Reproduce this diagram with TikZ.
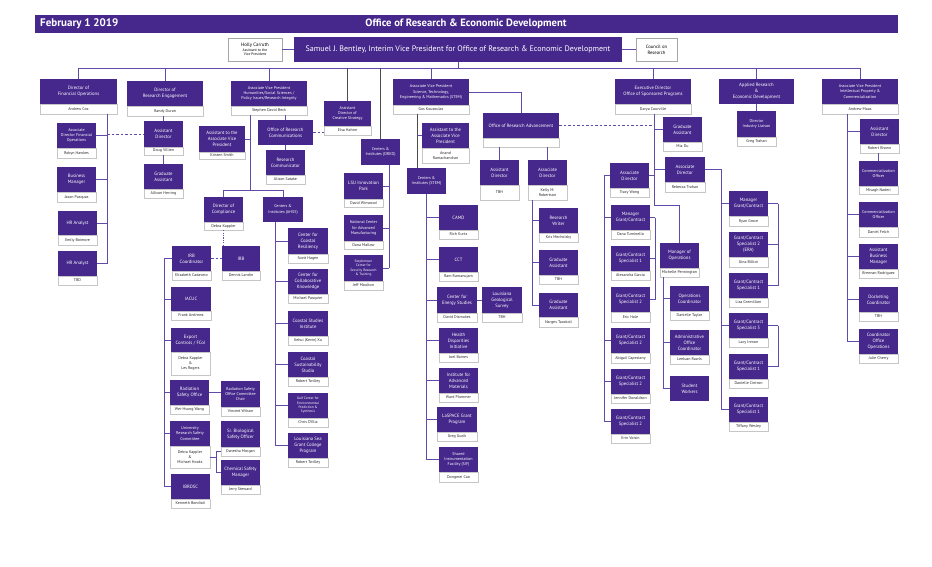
\documentclass[tikz,border=0pt]{standalone}
\usepackage{fontspec}
\setmainfont{PT Sans}
\definecolor{vio}{RGB}{70,40,140}
\definecolor{lvio}{RGB}{98,74,170}
\tikzset{
  pb/.style={fill=vio, text=white, draw=none, inner sep=0.3pt, align=center, font=\fontsize{4.7}{5.9}\selectfont},
  sm/.style={font=\fontsize{4.1}{5.1}\selectfont},
  xs/.style={font=\fontsize{3.5}{4.3}\selectfont},
  nb/.style={fill=white, draw=gray!45, line width=0.4pt, text=black!85, inner sep=0.3pt, align=center, font=\fontsize{4}{5}\selectfont},
  ln/.style={draw=lvio, line width=1pt},
  dk/.style={draw=black!70, line width=1pt},
  dsh/.style={draw=lvio, line width=1pt, dash pattern=on 2.5pt off 2pt},
  dtt/.style={draw=lvio, line width=1pt, dash pattern=on 1.2pt off 1.2pt},
  wb/.style={fill=white, draw=gray!70, line width=0.6pt, align=center, inner sep=0.5pt},
}
% purple box with name row: name, x1, y1, x2, y2 (purple bottom), y3 (name bottom), text, person, extra style
\newcommand{\ob}[9]{%
  \node[pb,#9, minimum width={#4pt-#2pt}, minimum height={#5pt-#3pt}] (#1) at ({(#2+#4)/2},{(#3+#5)/2}) {#7};
  \node[nb, minimum width={#4pt-#2pt}, minimum height={#6pt-#5pt}] (#1n) at ({(#2+#4)/2},{(#5+#6)/2}) {#8};}
% purple box only
\newcommand{\pbx}[7]{%
  \node[pb,#7, minimum width={#4pt-#2pt}, minimum height={#5pt-#3pt}] (#1) at ({(#2+#4)/2},{(#3+#5)/2}) {#6};}
\begin{document}
\begin{tikzpicture}[x=1pt,y=-1pt]
\useasboundingbox (0,0) rectangle (932,566);
% title bar
\node[fill=vio, minimum width=863pt, minimum height=18pt, inner sep=0pt] (bar) at (466.5,24) {};
\node[anchor=west, text=white, font=\fontsize{11}{13}\selectfont\bfseries, inner sep=0pt] (date) at (40,24) {February 1 2019};
\node[text=white, font=\fontsize{10.6}{13}\selectfont\bfseries, inner sep=0pt] (ttl) at (466,24) {Office of Research \& Economic Development};
% top row
\node[wb, minimum width=54pt, minimum height=23pt, font=\fontsize{3.7}{4.5}\selectfont] (holly) at (255,49.5) {{\fontsize{4.9}{5.5}\selectfont Holly Carruth}\\Assistant to the\\Vice President};
\node[pb, minimum width=328pt, minimum height=25pt, font=\fontsize{8}{10}\selectfont] (samuel) at (458,49.5) {Samuel J. Bentley, Interim Vice President for Office of Research \& Economic Development};
\node[wb, minimum width=41pt, minimum height=23pt, font=\fontsize{4.7}{5.7}\selectfont] (council) at (656.5,49.5) {Council on\\Research};
\draw[ln] (holly.east) -- (samuel.west);
\draw[ln] (samuel.east) -- (council.west);
% level 1
\ob{fin}{40}{79}{117}{104}{114}{Director of\\Financial Operations}{Andrew Cox}{}
\ob{reng}{127}{81}{203}{106}{116}{Director of\\Research Engagement}{Randy Duran}{}
\ob{hum}{231}{81}{307}{106}{115}{Associate Vice President\\Humanities/Social Sciences /\\Policy Issues/Research Integrity}{Stephen David Beck}{sm}
\ob{cs}{324}{101}{371}{126}{135}{Assistant\\Director of\\Creative Strategy}{Elsa Hahne}{sm}
\pbx{ored}{361}{139}{400}{165}{Centers \&\\Institutes (ORED)}{sm}
\ob{stem}{393}{79}{469}{105}{114}{Associate Vice President\\Science, Technology,\\Engineering \& Mathematics (STEM)}{Gus Kousoulas}{sm}
\ob{osp}{615}{79}{691}{104}{114}{Executive Director\\Office of Sponsored Programs}{Darya Courville}{}
\pbx{appl}{719}{79}{794}{104}{Applied Research\\\&\\Economic Development}{}
\ob{ip}{822}{79}{898}{104}{114}{Associate Vice President\\Intellectual Property \&\\Commercialization}{Andrew Maas}{sm}
% main bus
\coordinate (busy) at (0,68);
\draw[ln] (fin.north |- busy) -- (ip.north |- busy);
\draw[ln] (samuel.south) -- (samuel.south |- busy);
\foreach \n in {fin,reng,hum,stem,osp,appl,ip} \draw[ln] (\n.north) -- (\n.north |- busy);
\foreach \n in {cs,ored} \draw[dk] (\n.north) -- (\n.north |- busy);
% financial operations
\ob{adfo}{57}{123}{96}{148}{158}{Associate\\Director Financial\\Operations}{Robyn Hawkes}{sm}
\ob{bm}{57}{167}{96}{192}{202}{Business\\Manager}{Jason Pasquas}{}
\ob{hra}{58}{211}{97}{235}{245}{HR Analyst}{Emily Boimore}{}
\ob{hrb}{58}{251}{97}{276}{285}{HR Analyst}{TBD}{}
\coordinate (fb) at (107,0);
\draw[ln] (finn.south -| fb) -- (hrb.east -| fb);
\foreach \n in {adfo,bm,hra,hrb} \draw[ln] (\n.east) -- (\n.east -| fb);
% research engagement
\ob{ada}{144}{121}{183}{147}{155}{Assistant\\Director}{Doug Villien}{}
\ob{gaa}{144}{164}{183}{189}{198}{Graduate\\Assistant}{Allison Herring}{}
\draw[ln] (ada.north |- rengn.south) -- (ada.north);
\draw[ln] (adan.south) -- (gaa.north);
\draw[dsh] (ada.west -| fb) -- (ada.west);
% humanities
\ob{avpa}{199}{126}{245}{152}{159}{Assistant to the\\Associate Vice\\President}{Kristen Smith}{}
\pbx{orc}{258}{120}{313}{145}{Office of Research\\Communications}{}
\ob{rc}{266}{150}{305}{175}{184}{Research\\Communicator}{Alison Satake}{}
\ob{comp}{204}{197}{243}{222}{230}{Director of\\Compliance}{Debra Kappler}{}
\pbx{ahss}{263}{197}{303}{222}{Centers \&\\Institutes (AHSS)}{sm}
\coordinate (hb) at (250,0); \coordinate (hy) at (0,190);
\draw[ln] (humn.south -| hb) -- (hb |- hy);
\draw[ln] (avpa.east) -- (avpa.east -| hb);
\draw[ln] (comp.north |- hy) -- (ahss.north |- hy);
\draw[ln] (comp.north) -- (comp.north |- hy);
\draw[ln] (ahss.north) -- (ahss.north |- hy);
\draw[ln] (orc.north) -- (orc.north |- humn.south);
\draw[ln] (orc.south) -- (rc.north);
\draw[dsh] (orc.east) -- (orc.east -| cs.west);
% compliance
\ob{irb}{222}{246}{260}{271}{280}{IRB}{Dennis Landin}{}
\ob{irbc}{172}{246}{211}{271}{280}{IRB\\Coordinator}{Elizabeth Cadavero}{}
\ob{iacuc}{171}{287}{211}{311}{320}{IACUC}{Frank Andrews}{}
\ob{exp}{171}{328}{210}{352}{375}{Export\\Controls / FCoI}{Debra Kappler\\\&\\Les Rogers}{}
\ob{rso}{170}{380}{209}{405}{414}{Radiation\\Safety Office}{Wei-Hsung Wang}{}
\ob{rsoc}{221}{381}{260}{407}{416}{Radiation Safety\\Office Committee\\Chair}{Vincent Wilson}{sm}
\ob{ursc}{170}{421}{210}{446}{468}{University\\Research Safety\\Committee}{Debra Kappler\\\&\\Michael Hooks}{sm}
\ob{sbso}{221}{421}{260}{447}{456}{Sr. Biological\\Safety Officer}{Danesha Morgan}{}
\ob{csm}{221}{460}{260}{485}{494}{Chemical Safety\\Manager}{Jerry Steward}{}
\ob{ibrd}{171}{474}{210}{499}{508}{IBRDSC}{Kenneth Bondioli}{}
\draw[dtt] (compn.south) -- (compn.south |- irb.north);
\draw[dsh] (irbc.east) -- (irb.west);
\coordinate (cb) at (164,0);
\draw[ln] (irbc.west -| cb) -- (ibrd.west -| cb);
\foreach \n in {irbc,iacuc,exp,rso,ursc,ibrd} \draw[ln] (\n.west) -- (\n.west -| cb);
\draw[ln] (rso.east) -- (rso.east -| rsoc.west);
\coordinate (bk) at (216,0);
\draw[ln] (urscn.east) -- (urscn.east -| bk);
\draw[ln] (sbson.west -| bk) -- (csm.west -| bk);
\draw[ln] (sbson.west) -- (sbson.west -| bk);
\draw[ln] (csm.west) -- (csm.west -| bk);
% AHSS centers
\ob{ccr}{288}{228}{328}{254}{263}{Center for\\Coastal\\Resiliency}{Scott Hagen}{}
\ob{cck}{288}{269}{328}{294}{303}{Center for\\Collaborative\\Knowledge}{Michael Pasquier}{}
\ob{csi}{288}{311}{328}{336}{345}{Coastal Studies\\Institute}{Kehui (Kevin) Xu}{}
\ob{css}{288}{352}{328}{377}{386}{Coastal\\Sustainability\\Studio}{Robert Twilley}{}
\ob{gcep}{288}{393}{328}{418}{427}{Gulf Center for\\Environmental\\Prediction \&\\Synthesis}{Chris D'Elia}{xs}
\ob{lsg}{288}{433}{328}{458}{467}{Louisiana Sea\\Grant College\\Program}{Robert Twilley}{}
\coordinate (ab) at (275,0);
\draw[ln] (ahss.south -| ab) -- (lsg.west -| ab);
\foreach \n in {ccr,cck,csi,css,gcep,lsg} \draw[ln] (\n.west) -- (\n.west -| ab);
% ORED centers
\ob{lip}{344}{173}{383}{199}{207}{LSU Innovation\\Park}{David Winwood}{}
\ob{ncam}{344}{215}{383}{241}{249}{National Center\\for Advanced\\Manufacturing}{Dana Mallow}{sm}
\ob{stc}{344}{255}{383}{281}{290}{Stephenson\\Center for\\Security Research\\\& Training}{Jeff Moulton}{xs}
\coordinate (obx) at (389,0);
\draw[ln] (ored.south -| obx) -- (stc.east -| obx);
\foreach \n in {lip,ncam,stc} \draw[ln] (\n.east) -- (\n.east -| obx);
% STEM
\ob{avpb}{422}{123}{469}{148}{163}{Assistant to the\\Associate Vice\\President}{Anand\\Ramachandran}{}
\pbx{cis}{407}{168}{446}{194}{Centers \&\\Institutes (STEM)}{sm}
\coordinate (sb) at (417,0);
\draw[dk] (stemn.south -| sb) -- (cis.north -| sb);
\draw[ln] (avpb.west) -- (avpb.west -| sb);
\ob{camd}{439}{205}{478}{230}{239}{CAMD}{Rich Kurtz}{}
\ob{cct}{439}{247}{478}{272}{281}{CCT}{Ram Ramanujam}{}
\ob{ces}{437}{287}{477}{313}{322}{Center for\\Energy Studies}{David Dismukes}{}
\ob{lgs}{482}{287}{522}{313}{322}{Louisiana\\Geological\\Survey}{TBH}{}
\ob{hdi}{439}{328}{478}{353}{362}{Health\\Disparities\\Initiative}{Joel Baines}{}
\ob{iam}{439}{368}{478}{393}{402}{Institute for\\Advanced\\Materials}{Ward Plummer}{}
\ob{lasp}{437}{407}{477}{432}{441}{LaSPACE Grant\\Program}{Greg Guzik}{}
\ob{sif}{439}{447}{478}{472}{482}{Shared\\Instrumentation\\Facility (SIF)}{Dongmei Cao}{sm}
\coordinate (cib) at (426,0);
\draw[ln] (cis.south -| cib) -- (sif.west -| cib);
\foreach \n in {camd,cct,ces,hdi,iam,lasp,sif} \draw[ln] (\n.west) -- (\n.west -| cib);
\draw[ln] (ces.east) -- (lgs.west);
% Office of Research Advancement
\ob{ora}{483}{113}{559}{138}{147}{Office of Research Advancement}{}{}
\ob{oad}{480}{160}{519}{185}{200}{Assistant\\Director}{TBH}{}
\ob{oasd}{528}{160}{567}{185}{200}{Associate\\Director}{Kelly M.\\Robertson}{}
\draw[ln] (stem.east) -| (ora.north);
\draw[ln] (oad.north |- oran.south) -- (oad.north);
\draw[ln] (oasd.north |- oran.south) -- (oasd.north);
\ob{rw}{539}{208}{578}{233}{242}{Research\\Writer}{Kris Mecholsky}{}
\ob{gab}{539}{250}{578}{275}{284}{Graduate\\Assistant}{TBH}{}
\ob{gac}{539}{293}{578}{317}{327}{Graduate\\Assistant}{Narges Tavakoli}{}
\coordinate (rb) at (532,0);
\draw[ln] (oasdn.south -| rb) -- (gac.west -| rb);
\foreach \n in {rw,gab,gac} \draw[ln] (\n.west) -- (\n.west -| rb);
% OSP
\coordinate (osb) at (654,0); \coordinate (osy) at (0,205);
\draw[dsh] (ora.east) -- (ora.east -| osb);
\ob{oga}{663}{117}{702}{142}{151}{Graduate\\Assistant}{Mia Du}{}
\ob{rt}{665}{157}{705}{182}{192}{Associate\\Director}{Rebecca Trahan}{}
\ob{tw}{610}{163}{649}{188}{197}{Associate\\Director}{Tracy Wong}{}
\ob{mop}{660}{243}{699}{268}{277}{Manager of\\Operations}{Michelle Pennington}{}
\draw[ln] (ospn.south -| osb) -- (osb |- osy) -| (mop.north);
\foreach \n in {oga,rt} \draw[ln] (\n.west) -- (\n.west -| osb);
\draw[ln] (tw.east) -- (tw.east -| osb);
\ob{mgc}{611}{205}{650}{230}{239}{Manager\\Grant/Contract}{Dana Tuminello}{}
\ob{gsa}{611}{246}{650}{271}{280}{Grant/Contract\\Specialist 1}{Alexandra Garcia}{}
\ob{gsb}{611}{287}{650}{312}{322}{Grant/Contract\\Specialist 2}{Eric Hale}{}
\ob{gsc}{611}{328}{650}{353}{363}{Grant/Contract\\Specialist 2}{Abigail Capestany}{}
\ob{gsd}{611}{369}{650}{394}{403}{Grant/Contract\\Specialist 2}{Jennifer Donaldson}{}
\ob{gse}{611}{409}{650}{434}{443}{Grant/Contract\\Specialist 2}{Erin Voisin}{}
\coordinate (tb) at (604,0);
\draw[ln] (tw.west -| tb) -- (gse.west -| tb);
\foreach \n in {tw,mgc,gsc,gsd,gse} \draw[ln] (\n.west) -- (\n.west -| tb);
\coordinate (mb) at (655,0);
\draw[ln] (mgc.east -| mb) -- (gsb.east -| mb);
\foreach \n in {mgc,gsa,gsb} \draw[ln] (\n.east) -- (\n.east -| mb);
\ob{opc}{670}{286}{709}{311}{320}{Operations\\Coordinator}{Danielle Taylor}{}
\ob{aoc}{670}{330}{709}{355}{364}{Administrative\\Office\\Coordinator}{LeeJuan Rawls}{}
\pbx{sw}{670}{376}{709}{401}{Student\\Workers}{}
\coordinate (mpb) at (663,0);
\draw[ln] (mopn.south -| mpb) -- (sw.west -| mpb);
\foreach \n in {opc,aoc,sw} \draw[ln] (\n.west) -- (\n.west -| mpb);
\ob{rg}{729}{191}{768}{216}{226}{Manager\\Grant/Contract}{Ryan Groce}{}
\ob{gb}{729}{232}{768}{257}{267}{Grant/Contract\\Specialist 2\\(ERA)}{Gina Billiot}{}
\ob{lg}{729}{273}{768}{298}{307}{Grant/Contract\\Specialist 1}{Lisa Gremillion}{}
\ob{li}{729}{313}{768}{338}{347}{Grant/Contract\\Specialist 3}{Lacy Inmon}{}
\ob{dc}{729}{354}{768}{379}{388}{Grant/Contract\\Specialist 1}{Danielle Cintron}{}
\ob{tws}{729}{397}{768}{422}{431}{Grant/Contract\\Specialist 1}{Tiffany Wesley}{}
\coordinate (rtb) at (721,0);
\draw[ln] (rt.east) -- (rt.east -| rtb) -- (tws.west -| rtb);
\foreach \n in {rg,li,tws} \draw[ln] (\n.west) -- (\n.west -| rtb);
\coordinate (rk) at (778,0);
\draw[ln] (rg.east -| rk) -- (lg.east -| rk);
\foreach \n in {rg,gb,lg} \draw[ln] (\n.east) -- (\n.east -| rk);
\draw[ln] (li.east -| rk) -- (dc.east -| rk);
\foreach \n in {li,dc} \draw[ln] (\n.east) -- (\n.east -| rk);
% applied research
\ob{dil}{737}{111}{776}{137}{146}{Director\\Industry Liaison}{Greg Trahan}{sm}
\draw[ln] (appl.south) -- (dil.north);
% IP
\ob{ipad}{860}{119}{899}{144}{153}{Assistant\\Director}{Robert Brown}{}
\ob{coa}{859}{161}{898}{186}{194}{Commercialization\\Officer}{Misagh Naderi}{sm}
\ob{cob}{859}{202}{898}{227}{237}{Commercialization\\Officer}{Daniel Felch}{sm}
\ob{abm}{859}{244}{898}{269}{278}{Assistant\\Business\\Manager}{Brennan Rodriguez}{}
\ob{dock}{859}{287}{898}{312}{321}{Docketing\\Coordinator}{TBH}{}
\ob{coo}{859}{329}{898}{354}{363}{Coordinator\\Office\\Operations}{Julie Cherry}{}
\coordinate (ipb) at (847,0);
\draw[ln] (ipn.south -| ipb) -- (coo.west -| ipb);
\foreach \n in {ipad,cob,abm,dock,coo} \draw[ln] (\n.west) -- (\n.west -| ipb);
\draw[ln] (coa.north |- ipadn.south) -- (coa.north);
\end{tikzpicture}
\end{document}
